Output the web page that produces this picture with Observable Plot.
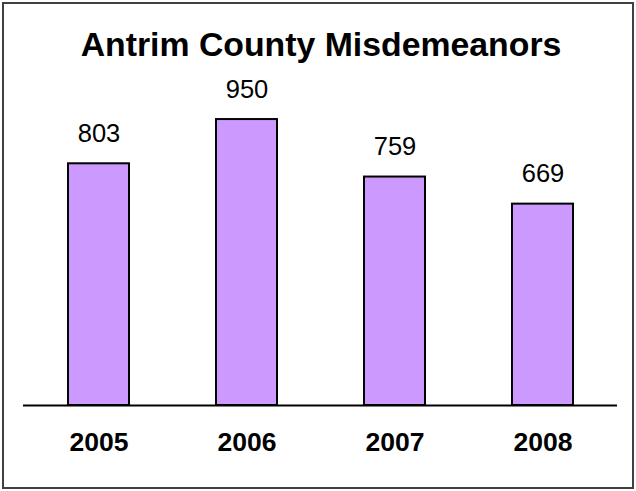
<!DOCTYPE html>
<html>
<head>
<meta charset="utf-8">
<script src="https://cdn.jsdelivr.net/npm/d3@7"></script>
<script src="https://cdn.jsdelivr.net/npm/@observablehq/plot@0.6"></script>
<style>
  html, body { margin: 0; padding: 0; background: #fff; }
  #wrap { position: relative; width: 636px; height: 491px; overflow: hidden; font-family: "Liberation Sans", Arial, sans-serif; }
  #frame { position: absolute; left: 2px; top: 2px; width: 632px; height: 487px; box-sizing: border-box; border: 2px solid #404040; pointer-events: none; }
  #title { position: absolute; left: 3px; top: 27px; width: 636px; text-align: center; font-weight: bold; font-size: 33.8px; line-height: 34px; color: #000; }
  #chart { position: absolute; left: 0; top: 0; }
</style>
</head>
<body>
<div id="wrap">
  <div id="chart"></div>
  <div id="title">Antrim County Misdemeanors</div>
  <div id="frame"></div>
</div>
<script>
const years = ["2005", "2006", "2007", "2008"];
const counts = [803, 950, 759, 669];
const data = years.map((year, i) => ({year, count: counts[i]}));

const chart = Plot.plot({
  width: 636,
  height: 491,
  marginLeft: 23,
  marginRight: 19,
  marginTop: 104,
  marginBottom: 86,
  style: {fontFamily: "'Liberation Sans', Arial, sans-serif", background: "transparent", color: "#000"},
  x: {domain: years, paddingInner: 0.59, paddingOuter: 0.295, label: null},
  y: {domain: [0, 1000], axis: null},
  marks: [
    Plot.barY(data, {x: "year", y: "count", fill: "#CC99FF", stroke: "#000", strokeWidth: 2}),
    Plot.ruleY([0], {stroke: "#000", strokeWidth: 2}),
    Plot.text(data, {x: "year", y: "count", text: d => String(d.count), lineAnchor: "bottom", dy: -22, fontSize: 25.5, fill: "#000"}),
    Plot.axisX({tickSize: 0, tickPadding: 27, fontSize: 26.5, fontWeight: "bold", label: null})
  ]
});
document.getElementById("chart").appendChild(chart);
</script>
</body>
</html>
